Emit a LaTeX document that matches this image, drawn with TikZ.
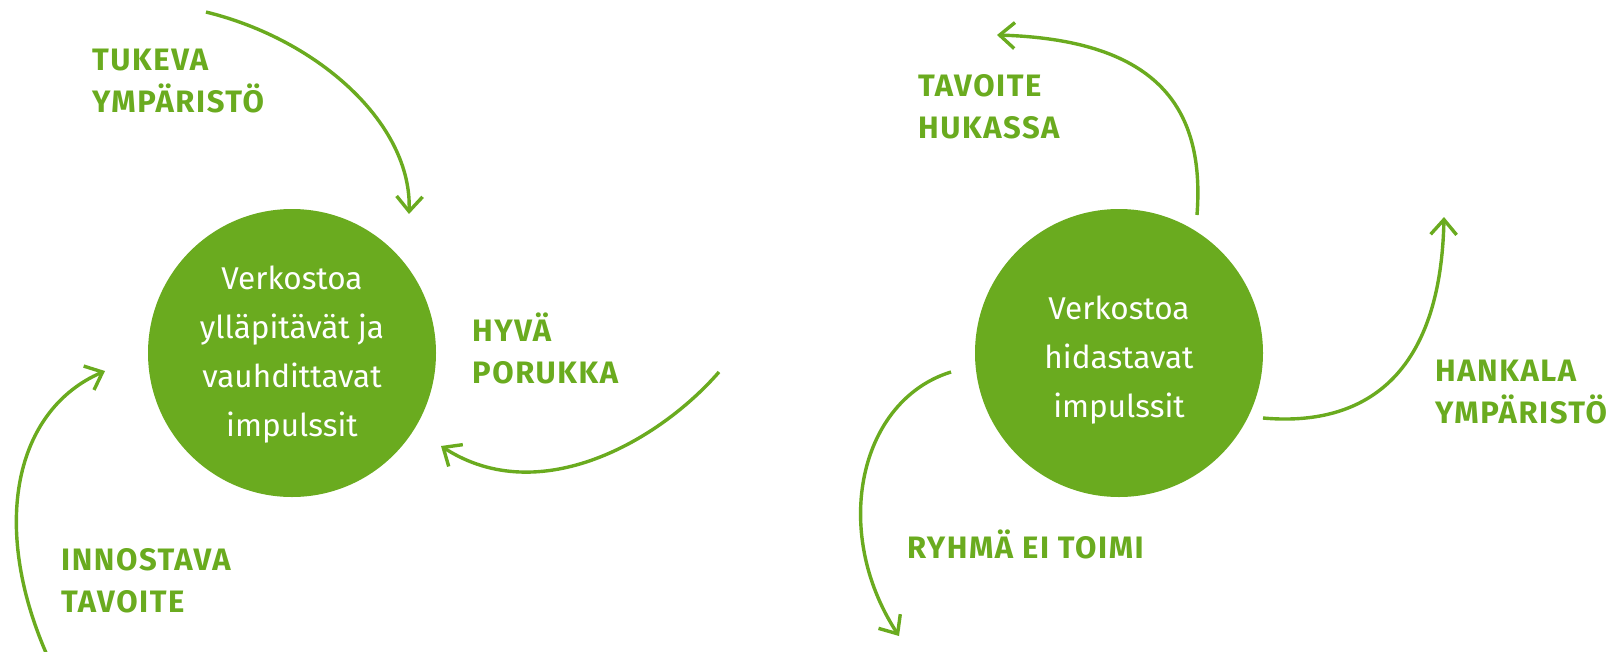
\documentclass[tikz,border=0pt]{standalone}
\usepackage{fontspec}
\usetikzlibrary{arrows.meta}
\newfontfamily\labfont[LetterSpace=5]{Fira Sans}
\newfontfamily\circfont{Fira Sans}
\definecolor{grn}{RGB}{106,171,31}
\tikzset{
  circ/.style={circle, fill=grn, draw=none, minimum size=288pt, inner sep=0pt},
  ctext/.style={text=white, align=center, font=\circfont\fontsize{31.5}{49}\selectfont, inner sep=0pt},
  lab/.style={text=grn, align=left, font=\labfont\bfseries\fontsize{31}{42}\selectfont, inner sep=0pt, anchor=base west},
  arr/.style={draw=grn, line width=3.4pt, -{Straight Barb[length=15pt,width=26pt]}}
}
\begin{document}
\begin{tikzpicture}[x=1pt,y=-1pt]
\useasboundingbox (0,0) rectangle (1610,651);
% circles
\node[circ] (L) at (292,353) {};
\node[ctext] (Lt) at (292,355) {Verkostoa\\ylläpitävät ja\\vauhdittavat\\impulssit};
\node[circ] (R) at (1119,353) {};
\node[ctext] (Rt) at (1119,360) {Verkostoa\\hidastavat\\impulssit};
% labels (anchor = baseline of last line)
\node[lab] (tuk) at (92,112) {TUKEVA\\YMPÄRISTÖ};
\node[lab] (hyv) at (472,383) {HYVÄ\\PORUKKA};
\node[lab] (inn) at (61,612) {INNOSTAVA\\TAVOITE};
\node[lab] (tav) at (918,138) {TAVOITE\\HUKASSA};
\node[lab] (han) at (1435,423) {HANKALA\\YMPÄRISTÖ};
\node[lab] (ryh) at (907,558) {RYHMÄ EI TOIMI};
% arrow end points
\coordinate (a1s) at (206,12);   \coordinate (a1e) at (409,214);
\coordinate (a2s) at (47,655);   \coordinate (a2e) at (105,371);
\coordinate (a3s) at (719,372);  \coordinate (a3e) at (441,446);
\coordinate (a4s) at (1197,215); \coordinate (a4e) at (997,35);
\coordinate (a5s) at (1263,418); \coordinate (a5e) at (1444,217);
\coordinate (a6s) at (951,372);  \coordinate (a6e) at (899,636);
% arrows
\draw[arr] (a1s) .. controls (320,40) and (412,125) .. (a1e);
\draw[arr] (a2s) .. controls (-10,525) and (15,410) .. (a2e);
\draw[arr] (a3s) .. controls (660,440) and (540,510) .. (a3e);
\draw[arr] (a4s) .. controls (1205,110) and (1160,40) .. (a4e);
\draw[arr] (a5s) .. controls (1340,425) and (1440,400) .. (a5e);
\draw[arr] (a6s) .. controls (860,400) and (830,530) .. (a6e);
\end{tikzpicture}
\end{document}
